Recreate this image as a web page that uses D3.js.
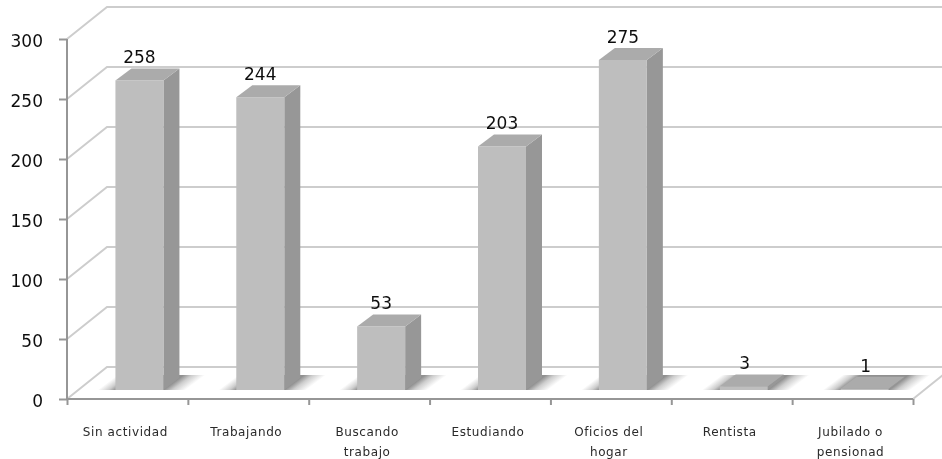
<!DOCTYPE html>
<html><head><meta charset="utf-8">
<script src="https://cdn.jsdelivr.net/npm/d3@7"></script>
<style>html,body{margin:0;padding:0;background:#fff;overflow:hidden}svg{display:block}text{font-family:"DejaVu Sans",sans-serif}</style>
</head><body><svg id="c" width="942" height="459"></svg>
<script>
const categories=[["Sin actividad"],["Trabajando"],["Buscando","trabajo"],["Estudiando"],["Oficios del","hogar"],["Rentista"],["Jubilado o","pensionad"]];
const values=[258,244,53,203,275,3,1];
const yTicks=[0,50,100,150,200,250,300];

const svg=d3.select("#c");
const y=d3.scaleLinear().domain([0,300]).range([399,39]);
const x=d3.scaleBand().domain(d3.range(values.length)).range([67,913]);
const depthX=40,depthY=32;          // wall depth
const barDX=16,barDY=12;            // bar depth
const barW=48,barOffX=12,barOffY=9; // bar position on the floor
const shL=18,shR=22,shH=15,shS=20;  // floor shadow: fades, height, slant
const defs=svg.append("defs");
defs.append("filter").attr("id","soft").attr("x","-10%").attr("width","120%").attr("y","-20%").attr("height","140%")
  .append("feGaussianBlur").attr("stdDeviation",0.55);

const wall=svg.append("g").attr("fill","none").attr("stroke","#cdcdcd").attr("stroke-width",2);
yTicks.forEach(t=>{
  wall.append("path").attr("d",d3.line()([[x.range()[0],y(t)],[x.range()[0]+depthX,y(t)-depthY],[960,y(t)-depthY]]));
});
wall.append("path").attr("d",d3.line()([[x.range()[1],y(0)],[x.range()[1]+depthX,y(0)-depthY]]));

const shadows=svg.append("g");
const bars=svg.append("g");
values.forEach((v,i)=>{
  const l=x(i)+x.bandwidth()/2-barW/2+barOffX, r=l+barW;
  const b=y(0)-barOffY;
  const L=barW+shL+shR, x0=l-shL;
  const k=shH*L/(shH*shH+shS*shS);
  const g=defs.append("linearGradient").attr("id","sh"+i).attr("gradientUnits","userSpaceOnUse")
    .attr("x1",x0).attr("y1",b).attr("x2",x0+k*shH).attr("y2",b+k*shS);
  [[0,0],[shL*0.6/L,0.45],[shL/L,1],[(L-shR)/L,1],[(L-shR*0.6)/L,0.45],[1,0]].forEach(([o,a])=>
    g.append("stop").attr("offset",o).attr("stop-color","#909090").attr("stop-opacity",a));
  shadows.append("path").attr("fill",`url(#sh${i})`)
    .attr("d",d3.line()([[x0,b],[x0+L,b],[x0+L+shS,b-shH],[x0+shS,b-shH]]));
});
values.forEach((v,i)=>{
  const l=x(i)+x.bandwidth()/2-barW/2+barOffX, r=l+barW;
  const b=y(0)-barOffY, t=y(v)-barOffY;
  bars.append("path").attr("fill","#979797").attr("d",d3.line()([[r,b],[r+barDX,b-barDY],[r+barDX,t-barDY],[r,t]]));
  bars.append("path").attr("fill","#ababab").attr("d",d3.line()([[l,t],[r,t],[r+barDX,t-barDY],[l+barDX,t-barDY]]));
  bars.append("rect").attr("x",l).attr("y",t).attr("width",barW).attr("height",b-t).attr("fill","#bebebe");
  svg.append("text").attr("x",l+barW/2+(v<10?1:0)).attr("y",t-barDY-5).attr("text-anchor","middle")
    .attr("font-size",17).attr("fill","#111").attr("filter","url(#soft)").text(v);
});

// axes
const axisColor="#969696";
const ya=svg.append("g").attr("transform",`translate(${x.range()[0]},0)`)
  .call(d3.axisLeft(y).tickValues(yTicks).tickSize(8).tickPadding(16));
ya.selectAll("text").attr("font-size",17).attr("fill","#111").attr("font-family","DejaVu Sans").attr("dy","0.42em").attr("filter","url(#soft)");
const xa=svg.append("g").attr("transform",`translate(0,${y(0)})`)
  .call(d3.axisBottom(d3.scaleLinear().domain([0,7]).range(x.range())).tickValues(d3.range(8)).tickSize(6).tickFormat(""));
[ya,xa].forEach(a=>{a.selectAll("path,line").attr("stroke",axisColor).attr("stroke-width",2);a.select(".domain").attr("d",a===ya?`M0,${y(300)}V${y(0)}`:`M${x.range()[0]},0H${x.range()[1]}`);});

categories.forEach((lines,i)=>{
  const cx=x(i)+x.bandwidth()/2-2;
  const t=svg.append("text").attr("text-anchor","middle").attr("font-size",12).attr("letter-spacing",0.6).attr("fill","#2a2a2a")
    .attr("filter","url(#soft)").attr("x",cx).attr("y",436);
  lines.forEach((s,k)=>t.append("tspan").attr("x",cx).attr("dy",k?19.5:0).text(s));
});
</script></body></html>
